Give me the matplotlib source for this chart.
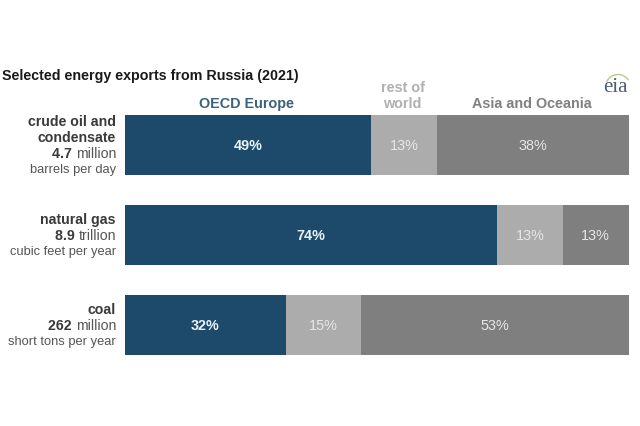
#!/usr/bin/env python3
# -*- coding: utf-8 -*-

import numpy as np
import matplotlib
matplotlib.use("Agg")
import matplotlib.pyplot as plt

plt.rcParams['font.family'] = ['Liberation Sans', 'DejaVu Sans']

# shares of exports, percent
regions = ["OECD Europe", "rest of\nworld", "Asia and Oceania"]
oecd_europe = [49, 74, 32]
rest_of_world = [13, 13, 15]
asia_oceania = [38, 13, 53]

# row labels: bold name, amount, unit word, last line
names = ["crude oil and\ncondensate", "natural gas", "coal"]
amounts = ["4.7", "8.9", "262"]
scales = ["million", "trillion", "million"]
units = ["barrels per day", "cubic feet per year", "short tons per year"]

colors = ["#1d4a6b", "#acacac", "#7f7f7f"]
label_colors = ["#3d627c", "#b0b0b0", "#808080"]
text_dark = "#3a3a3a"
text_mid = "#555555"
W, H = 640, 427

fig = plt.figure(figsize=(6.4, 4.27), dpi=100)
ax = fig.add_axes([124.5 / W, 1 - 355.5 / H, 504 / W, (355.5 - 116) / H])
ax.set_xlim(0, 100)
ax.set_ylim(2 + 0.332, -0.332)
ax.axis("off")

rows = np.arange(len(names))
left = np.zeros(len(names))
for i, vals in enumerate([oecd_europe, rest_of_world, asia_oceania]):
    vals = np.array(vals)
    ax.barh(rows, vals, left=left, height=0.664, color=colors[i], linewidth=0)
    for r in rows:
        weight = "bold" if i == 0 else "normal"
        col = "#e8f2f8" if i == 0 else "#e6e6e6"
        ax.text(left[r] + vals[r] / 2, r, f"{vals[r]}%", ha="center", va="center",
                fontsize=10.4, color=col, fontweight=weight)
    left = left + vals

# region headers over the first bar
ax.annotate(regions[0], xy=(24.2, -0.332), xytext=(0, 5), textcoords="offset pixels",
            ha="center", va="bottom", fontsize=10.4, fontweight="bold", color=label_colors[0])
ax.annotate(regions[1], xy=(55.2, -0.332), xytext=(0, 5), textcoords="offset pixels",
            ha="center", va="bottom", fontsize=10.4, fontweight="bold", color=label_colors[1],
            linespacing=1.18)
ax.annotate(regions[2], xy=(80.9, -0.332), xytext=(0, 5), textcoords="offset pixels",
            ha="center", va="bottom", fontsize=10.4, fontweight="bold", color=label_colors[2])

# row labels, right aligned left of the bars
for r in rows:
    n_lines = names[r].count("\n") + 3
    line_px = 16.0
    top = -(n_lines - 1) * line_px / 2
    off = lambda k: -(top + k * line_px)
    for k, line in enumerate(names[r].split("\n")):
        ax.annotate(line, xy=(0, r), xytext=(-8.5, off(k)), textcoords="offset pixels",
                    ha="right", va="center", fontsize=10.2, fontweight="bold", color=text_dark)
    k = n_lines - 2
    t = ax.annotate(scales[r], xy=(0, r), xytext=(-8.5, off(k)), textcoords="offset pixels",
                    ha="right", va="center", fontsize=10.2, color=text_mid)
    ax.annotate(amounts[r] + " ", xy=(0, 0), xycoords=t, ha="right", va="bottom",
                fontsize=10.2, fontweight="bold", color=text_dark)
    ax.annotate(units[r], xy=(0, r), xytext=(-8.5, off(k + 1)), textcoords="offset pixels",
                ha="right", va="center", fontsize=9.3, color=text_mid)

fig.text(2 / W, 1 - 76 / H, "Selected energy exports from Russia (2021)",
         ha="left", va="center", fontsize=10.25, fontweight="bold", color="#1a1a1a")

# eia logo, wordmark and arc
fig.text(615 / W, 1 - 88 / H, "eia", ha="center", va="center", fontsize=15,
         family="Liberation Serif", color="#4a5f6e")
arc_t = np.linspace(0.2, 0.85, 30) * np.pi
fig.add_artist(plt.Line2D((618 + 12.5 * np.cos(arc_t)) / W,
                          1 - (88 - 12.5 * np.sin(arc_t)) / H,
                          color="#b9c98f", lw=1.0))

fig.savefig("out.png", dpi=100)
